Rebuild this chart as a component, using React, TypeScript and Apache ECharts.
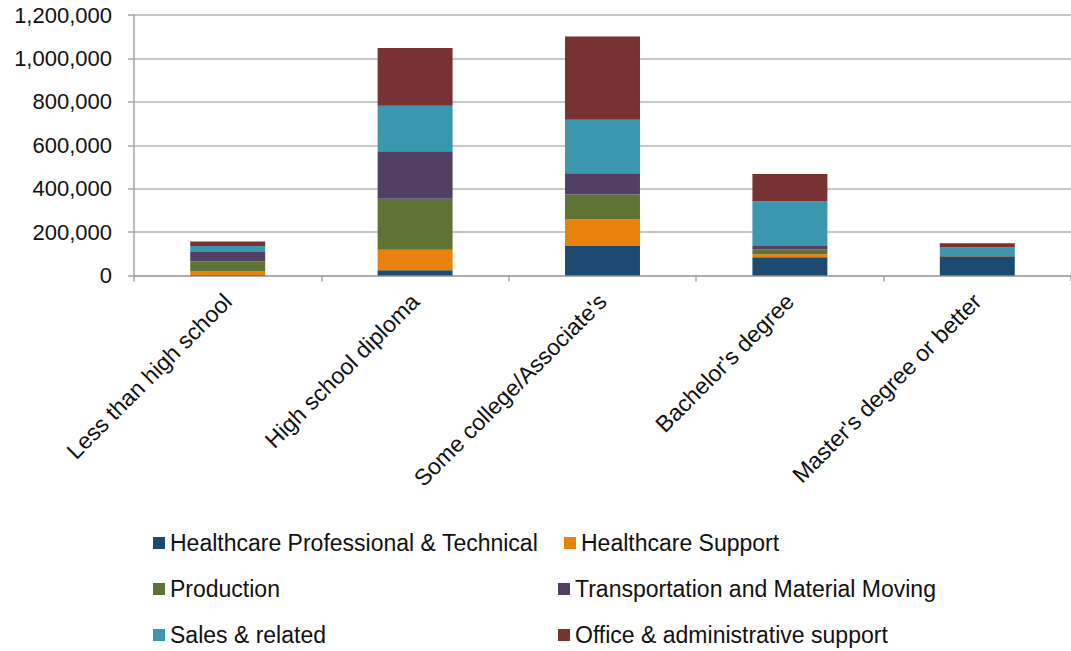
import React, { useEffect, useRef } from "react";
import * as echarts from "echarts";

const categories = [
  "Less than high school",
  "High school diploma",
  "Some college/Associate's",
  "Bachelor's degree",
  "Master's degree or better",
];

const healthcareProfessional = [2000, 24000, 136000, 84000, 89000];
const healthcareSupport = [16000, 95000, 121500, 14000, 1000];
const production = [46000, 234500, 116000, 21500, 3000];
const transportation = [44000, 219000, 98000, 16500, 2000];
const salesRelated = [27500, 210000, 245500, 205500, 35000];
const officeAdmin = [21500, 265500, 384500, 125500, 18500];

const seriesNames = [
  "Healthcare Professional & Technical",
  "Healthcare Support",
  "Production",
  "Transportation and Material Moving",
  "Sales & related",
  "Office & administrative support",
];
const seriesData = [
  healthcareProfessional,
  healthcareSupport,
  production,
  transportation,
  salesRelated,
  officeAdmin,
];
const colors = ["#1D4A70", "#E8820C", "#5F7434", "#514063", "#3A97AD", "#773231"];

const FONT = "Liberation Sans, Arial, sans-serif";

export default function App() {
  const ref = useRef<HTMLDivElement>(null);
  useEffect(() => {
    if (!ref.current) return;
    const chart = echarts.init(ref.current, undefined, { renderer: "svg" });
    const legendCommon = {
      orient: "vertical",
      icon: "rect",
      itemWidth: 12,
      itemHeight: 12,
      itemGap: 23,
      padding: 0,
      height: 300,
      selectedMode: false,
      textStyle: { fontFamily: FONT, fontSize: 23, color: "#111" },
    };
    chart.setOption({
      animation: false,
      color: colors,
      textStyle: { fontFamily: FONT },
      grid: { left: 134, top: 15, right: -6, bottom: 375.5, containLabel: false },
      legend: [
        { ...legendCommon, left: 153, top: 531.5, data: [seriesNames[0], seriesNames[2], seriesNames[4]] },
        { ...legendCommon, left: 564, top: 531.5, data: [seriesNames[1]] },
        { ...legendCommon, left: 558, top: 577.5, data: [seriesNames[3], seriesNames[5]] },
      ],
      xAxis: {
        type: "category",
        data: categories,
        axisLine: { show: true, lineStyle: { color: "#a6a6a6", width: 1.5 } },
        axisTick: { show: true, length: 6, alignWithLabel: false, lineStyle: { color: "#a6a6a6", width: 1.5 } },
        axisLabel: {
          rotate: 45,
          interval: 0,
          margin: 22,
          fontFamily: FONT,
          fontSize: 23,
          color: "#111",
        },
      },
      yAxis: {
        type: "value",
        min: 0,
        max: 1200000,
        interval: 200000,
        axisLine: { show: true, lineStyle: { color: "#a6a6a6", width: 1.5 } },
        axisTick: { show: true, length: 6, lineStyle: { color: "#a6a6a6", width: 1.5 } },
        splitLine: { show: true, lineStyle: { color: "#b4b4b4", width: 1.5 } },
        axisLabel: {
          margin: 22,
          fontFamily: FONT,
          fontSize: 22,
          color: "#111",
          formatter: (v: number) => v.toLocaleString("en-US"),
        },
      },
      series: seriesNames.map((name, i) => ({
        name,
        type: "bar",
        stack: "total",
        barWidth: "40%",
        data: seriesData[i],
        itemStyle: { color: colors[i] },
      })),
    });
    return () => chart.dispose();
  }, []);
  return <div ref={ref} style={{ width: 1071, height: 651, position: "absolute", left: 0, top: 0 }} />;
}
